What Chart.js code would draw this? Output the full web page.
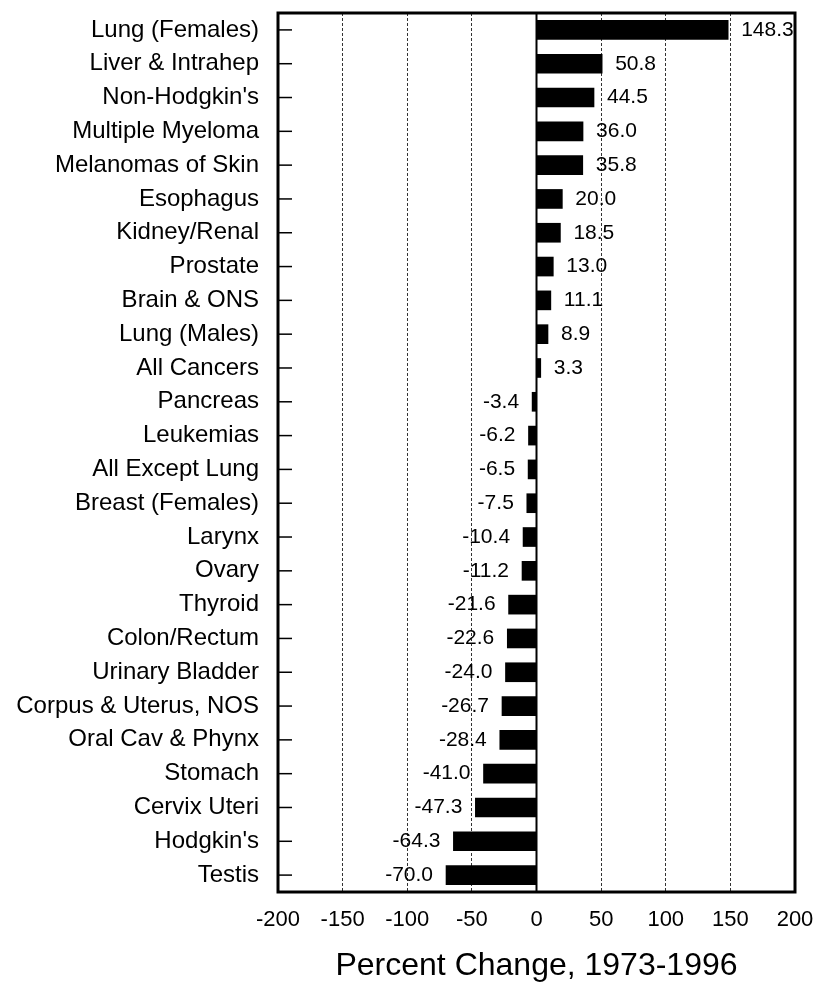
<!DOCTYPE html>
<html>
<head>
<meta charset="utf-8">
<script src="https://cdn.jsdelivr.net/npm/chart.js@4/dist/chart.umd.min.js"></script>
<style>
  html, body { margin: 0; padding: 0; background: #fff; }
  #wrap { width: 818px; height: 982px; position: relative; }
</style>
</head>
<body>
<div id="wrap"><canvas id="c" width="818" height="982"></canvas></div>
<script>
const categories = [
  "Lung (Females)", "Liver & Intrahep", "Non-Hodgkin's", "Multiple Myeloma",
  "Melanomas of Skin", "Esophagus", "Kidney/Renal", "Prostate", "Brain & ONS",
  "Lung (Males)", "All Cancers", "Pancreas", "Leukemias", "All Except Lung",
  "Breast (Females)", "Larynx", "Ovary", "Thyroid", "Colon/Rectum",
  "Urinary Bladder", "Corpus & Uterus, NOS", "Oral Cav & Phynx", "Stomach",
  "Cervix Uteri", "Hodgkin's", "Testis"
];
const percentChange = [
  148.3, 50.8, 44.5, 36.0, 35.8, 20.0, 18.5, 13.0, 11.1, 8.9, 3.3,
  -3.4, -6.2, -6.5, -7.5, -10.4, -11.2, -21.6, -22.6, -24.0, -26.7,
  -28.4, -41.0, -47.3, -64.3, -70.0
];
const xTicks = [-200, -150, -100, -50, 0, 50, 100, 150, 200];
const axisTitle = "Percent Change, 1973-1996";

const FONT = "'Liberation Sans', Arial, sans-serif";

const decorPlugin = {
  id: 'decor',
  afterDatasetsDraw(chart) {
    const ctx = chart.ctx;
    const a = chart.chartArea;
    const xs = chart.scales.x, ys = chart.scales.y;
    ctx.save();
    // zero line
    const x0 = xs.getPixelForValue(0);
    ctx.strokeStyle = '#000';
    ctx.lineWidth = 2;
    ctx.beginPath();
    ctx.moveTo(x0, a.top);
    ctx.lineTo(x0, a.bottom);
    ctx.stroke();
    // inside tick marks on y axis
    ctx.lineWidth = 1.5;
    for (let i = 0; i < ys.ticks.length; i++) {
      const y = ys.getPixelForTick(i);
      ctx.beginPath();
      ctx.moveTo(a.left, y);
      ctx.lineTo(a.left + 14, y);
      ctx.stroke();
    }
    // frame
    ctx.lineWidth = 3;
    ctx.strokeRect(a.left, a.top, a.right - a.left, a.bottom - a.top);
    // value labels
    ctx.fillStyle = '#000';
    ctx.font = '21px ' + FONT;
    ctx.textBaseline = 'middle';
    const meta = chart.getDatasetMeta(0);
    meta.data.forEach((bar, i) => {
      const v = chart.data.datasets[0].data[i];
      const txt = v.toFixed(1);
      if (v >= 0) {
        ctx.textAlign = 'left';
        ctx.fillText(txt, bar.x + 13, bar.y);
      } else {
        ctx.textAlign = 'right';
        ctx.fillText(txt, bar.x - 13, bar.y);
      }
    });
    ctx.restore();
  }
};

new Chart(document.getElementById('c'), {
  type: 'bar',
  data: {
    labels: categories,
    datasets: [{
      data: percentChange,
      backgroundColor: '#000',
      borderWidth: 0,
      barThickness: 19
    }]
  },
  options: {
    indexAxis: 'y',
    responsive: false,
    animation: false,
    devicePixelRatio: 1,
    layout: { autoPadding: false, padding: { top: 13, right: 23, left: 0, bottom: 0 } },
    plugins: {
      legend: { display: false },
      tooltip: { enabled: false }
    },
    scales: {
      x: {
        min: -200,
        max: 200,
        afterBuildTicks(scale) { scale.ticks = xTicks.map(v => ({ value: v })); },
        afterFit(scale) {
          scale.height = 90;
          scale.paddingLeft = 0; scale.paddingRight = 0;
        },
        ticks: {
          color: '#000',
          font: { family: FONT, size: 22 },
          padding: 15,
          maxRotation: 0,
          autoSkip: false
        },
        grid: {
          drawTicks: false,
          lineWidth: 1,
          color: (ctx) => {
            const v = ctx.tick ? ctx.tick.value : null;
            return (v === -200 || v === 0 || v === 200) ? 'rgba(0,0,0,0)' : '#333';
          }
        },
        border: { display: false, dash: [3, 2] },
        title: {
          display: true,
          text: axisTitle,
          color: '#000',
          font: { family: FONT, size: 32, lineHeight: 1.0 },
          padding: { top: 19, bottom: 0 }
        }
      },
      y: {
        afterFit(scale) {
          scale.width = 278;
          scale.paddingTop = 0; scale.paddingBottom = 0;
        },
        ticks: {
          color: '#000',
          font: { family: FONT, size: 24 },
          padding: 19,
          autoSkip: false
        },
        grid: { display: false, drawTicks: false },
        border: { display: false }
      }
    }
  },
  plugins: [decorPlugin]
});
</script>
</body>
</html>
